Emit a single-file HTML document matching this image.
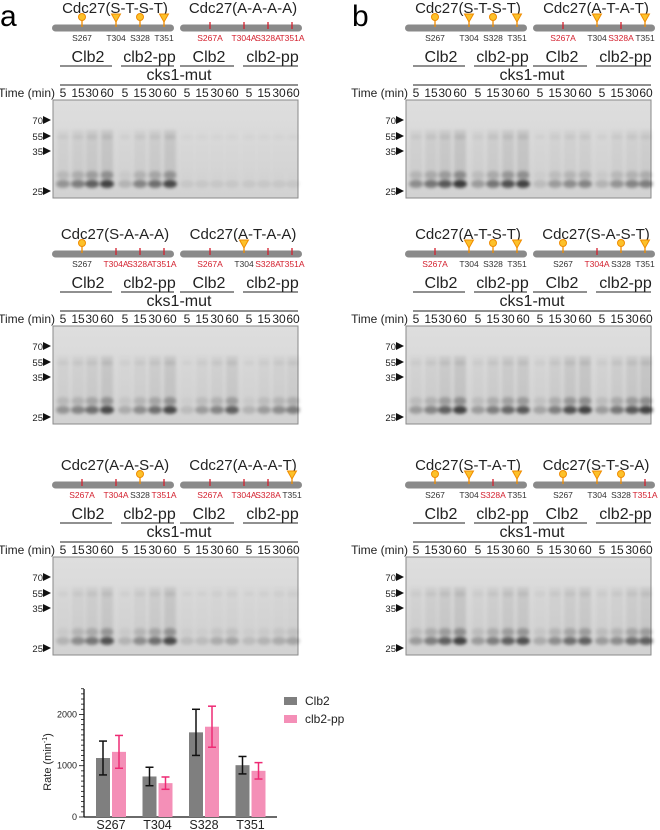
<!DOCTYPE html>
<html><head><meta charset="utf-8">
<style>
html,body{margin:0;padding:0;background:#fff;}
svg{display:block;font-family:"Liberation Sans",sans-serif;}
</style></head>
<body>
<svg id="fig" width="660" height="830" viewBox="0 0 660 830" xmlns="http://www.w3.org/2000/svg">
<defs>
<filter id="blur" x="-50%" y="-50%" width="200%" height="200%"><feGaussianBlur stdDeviation="1.6"/></filter>
<linearGradient id="gelbg" x1="0" y1="0" x2="0" y2="1"><stop offset="0" stop-color="#dedede"/><stop offset="1" stop-color="#d2d2d2"/></linearGradient>
</defs>
<text x="0" y="26" font-size="30">a</text>
<text x="352" y="26" font-size="30">b</text>
</svg>
<script>
const NS='http://www.w3.org/2000/svg';
const svg=document.getElementById('fig');
function mk(tag,attrs,parent,txt){const e=document.createElementNS(NS,tag);for(const k in attrs)e.setAttribute(k,attrs[k]);if(txt!==undefined)e.textContent=txt;(parent||svg).appendChild(e);return e;}

// gel lane intensities (16 lanes per block)
const bandsA1=[.35,.5,.7,.9,.15,.45,.6,.85,.03,.03,.03,.03,.03,.03,.03,.03];
const bandsA2=[.35,.45,.6,.85,.2,.4,.6,.85,.1,.3,.45,.7,.15,.3,.4,.5];
const bandsA3=[.15,.4,.55,.8,.15,.4,.6,.85,.1,.1,.2,.25,.1,.15,.2,.25];
const bandsB1=[.4,.55,.75,.95,.3,.55,.8,.9,.1,.3,.4,.45,.15,.35,.45,.5];
const bandsB2=[.3,.45,.7,.9,.3,.5,.65,.75,.25,.5,.8,.9,.3,.55,.75,.9];
const bandsB3=[.3,.5,.7,.9,.3,.5,.7,.8,.2,.4,.6,.7,.3,.4,.6,.7];
const siteNames=['S267','T304','S328','T351'];
const sitePos=[30,64,88,112];
const laneX=[10,25,39,54,72,87,102,117,134,149,164,179,196,211,226,240];
const timeLabels=['5','15','30','60','5','15','30','60','5','15','30','60','5','15','30','60'];

function construct(g,bx,oy,code){
  const bw=122;
  mk('text',{x:bx+bw/2+2,y:oy+13,'font-size':15,'text-anchor':'middle',fill:'#222',},g,'Cdc27('+code.split('').join('-')+')');
  mk('rect',{x:bx,y:oy+24.5,width:bw,height:7,rx:3.5,fill:'#8a8a8a',},g);
  code.split('').forEach((c,i)=>{
    const x=bx+sitePos[i];const mut=(c==='A');
    if(mut){
      mk('line',{x1:x,y1:oy+22,x2:x,y2:oy+29,stroke:'#d3202e','stroke-width':1.3,},g);
    }else{
      mk('line',{x1:x,y1:oy+19,x2:x,y2:oy+27,stroke:'#f08c00','stroke-width':1.3,},g);
      if(c==='S') mk('circle',{cx:x,cy:oy+17,r:3.5,fill:'#fcc12a',stroke:'#f08c00','stroke-width':1,},g);
      else mk('polygon',{points:`${x-4.5},${oy+14} ${x+4.5},${oy+14} ${x},${oy+22}`,fill:'#fcc12a',stroke:'#f08c00','stroke-width':1,},g);
    }
    mk('text',{x:x,y:oy+41,'font-size':8.5,'text-anchor':'middle',fill:mut?'#d3202e':'#333',},g,siteNames[i]+(mut?'A':''));
  });
}

function block(ox,oy,c1,c2,bands,name){
  const g=mk('g',{});
  construct(g,ox+52,oy,c1);
  construct(g,ox+180,oy,c2);
  const groups=[['Clb2',60,112],['clb2-pp',121,174],['Clb2',180,234],['clb2-pp',243,298]];
  groups.forEach(([t,a,b])=>{
    mk('text',{x:ox+(a+b)/2+2,y:oy+62,'font-size':16,'text-anchor':'middle',fill:'#222',},g,t);
    mk('line',{x1:ox+a,y1:oy+66,x2:ox+b,y2:oy+66,stroke:'#222','stroke-width':1,},g);
  });
  mk('text',{x:ox+179,y:oy+80,'font-size':16,'text-anchor':'middle',fill:'#222',},g,'cks1-mut');
  mk('line',{x1:ox+60,y1:oy+85,x2:ox+298,y2:oy+85,stroke:'#222','stroke-width':1,},g);
  mk('text',{x:ox+55,y:oy+97,'font-size':12,'text-anchor':'end',fill:'#222',},g,'Time (min)');
  timeLabels.forEach((t,i)=>mk('text',{x:ox+53+laneX[i],y:oy+97,'font-size':12,'text-anchor':'middle',fill:'#222',},g,t));
  const gx=ox+53,gy=oy+100;
  mk('rect',{x:gx,y:gy,width:245,height:98,fill:'url(#gelbg)',stroke:'#8a8a8a','stroke-width':1,},g);
  const bg=mk('g',{filter:'url(#blur)',},g);
  bands.forEach((v,i)=>{
    const x=gx+laneX[i];
    mk('rect',{x:x-6,y:gy+30,width:12,height:55,fill:'#000',opacity:(v*0.1).toFixed(3),},bg);
    mk('ellipse',{cx:x,cy:gy+37,rx:6,ry:2.5,fill:'#000',opacity:(0.03+v*0.05).toFixed(3),},bg);
    mk('ellipse',{cx:x,cy:gy+75,rx:6.5,ry:4,fill:'#000',opacity:(v*0.3).toFixed(3),},bg);
    mk('ellipse',{cx:x,cy:gy+84,rx:7,ry:4,fill:'#000',opacity:(0.04+v*0.7).toFixed(3),},bg);
  });
  [['70',124],['55',140],['35',155],['25',195]].forEach(([t,yy])=>{
    mk('text',{x:ox+43,y:oy+yy,'font-size':9.5,'text-anchor':'end',fill:'#222',},g,t);
    mk('polygon',{points:`${ox+43},${oy+yy-8} ${ox+43},${oy+yy} ${ox+51},${oy+yy-4}`,fill:'#111',},g);
  });
}
block(0,0,'STST','AAAA',bandsA1,'block-a1');
block(0,226,'SAAA','ATAA',bandsA2,'block-a2');
block(0,457,'AASA','AAAT',bandsA3,'block-a3');
block(353,0,'STST','ATAT',bandsB1,'block-b1');
block(353,226,'ATST','SAST',bandsB2,'block-b2');
block(353,457,'STAT','STSA',bandsB3,'block-b3');

// ---- Bar chart ----
const categories=['S267','T304','S328','T351'];
const clb2Values=[1150,790,1650,1010];
const clb2Errors=[330,180,450,170];
const ppValues=[1270,660,1760,900];
const ppErrors=[320,120,400,160];
const yTicks=[0,1000,2000];
const y0=817,yScale=0.0513;
function Y(v){return y0-v*yScale;}
function Xc(i){return 111+i*46.5;}
const ch=mk('g',{});
mk('line',{x1:84,y1:689,x2:84,y2:y0,stroke:'#111','stroke-width':1.3,},ch);
mk('line',{x1:84,y1:y0,x2:277,y2:y0,stroke:'#111','stroke-width':1.3,},ch);
for(let v=0;v<=2500;v+=100){mk('line',{x1:v%1000===0?79:81,y1:Y(v),x2:84,y2:Y(v),stroke:'#111','stroke-width':0.8,},ch);}
yTicks.forEach(v=>mk('text',{x:77,y:Y(v)+3,'font-size':9,'text-anchor':'end',fill:'#222',},ch,v));
mk('text',{x:0,y:0,transform:'translate(51,762) rotate(-90)','font-size':11,'text-anchor':'middle',fill:'#222',},ch).innerHTML='Rate (min<tspan dy="-4" font-size="7">-1</tspan><tspan dy="4">)</tspan>';
categories.forEach((c,i)=>{
  const cx=Xc(i);
  const series=[[clb2Values[i],clb2Errors[i],cx-8,'#7f7f7f','#111'],[ppValues[i],ppErrors[i],cx+8,'#f48fb7','#ee2a74']];
  series.forEach(([v,e,x,fc,ec],k)=>{
    const b=mk('rect',{x:x-7,y:Y(v),width:14,height:y0-Y(v),fill:fc},ch);
    
    
    const eg=mk('g',{stroke:ec,'stroke-width':1.5,},ch);
    mk('line',{x1:x,y1:Y(v-e),x2:x,y2:Y(v+e)},eg);
    mk('line',{x1:x-4,y1:Y(v-e),x2:x+4,y2:Y(v-e)},eg);
    mk('line',{x1:x-4,y1:Y(v+e),x2:x+4,y2:Y(v+e)},eg);
  });
  mk('text',{x:cx,y:829,'font-size':12.5,'text-anchor':'middle',fill:'#222',},ch,c);
});
mk('rect',{x:284,y:697,width:13,height:8,fill:'#7f7f7f',},ch);
mk('text',{x:305,y:705,'font-size':12,fill:'#222',},ch,'Clb2');
mk('rect',{x:284,y:715,width:13,height:8,fill:'#f48fb7',},ch);
mk('text',{x:305,y:723,'font-size':12,fill:'#222',},ch,'clb2-pp');
</script>
</body></html>
